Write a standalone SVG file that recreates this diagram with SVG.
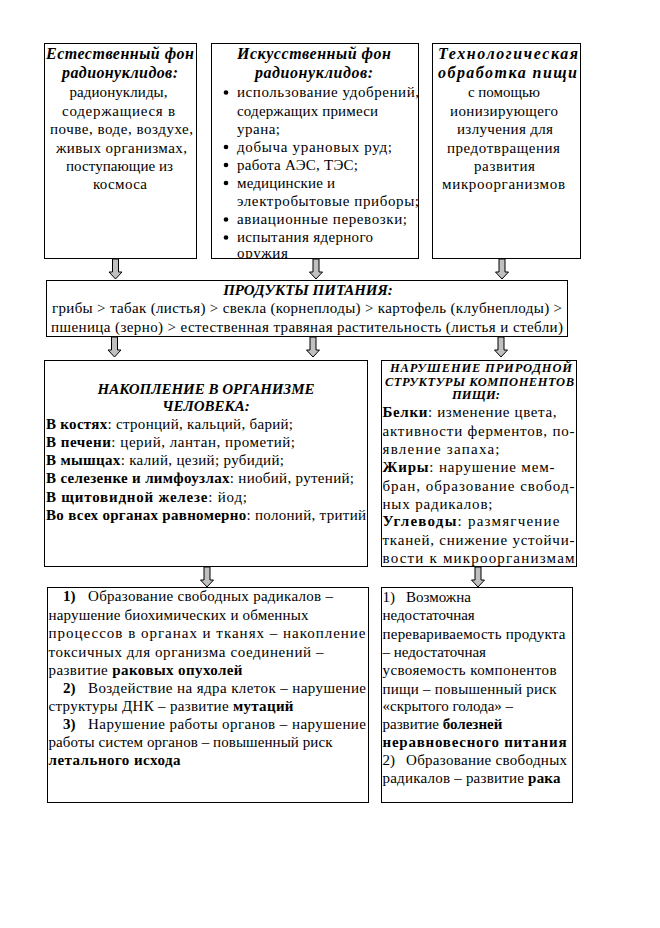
<svg xmlns="http://www.w3.org/2000/svg" width="660" height="928" viewBox="0 0 660 928" font-family="'Liberation Serif', 'Times New Roman', 'DejaVu Serif', serif">
<style>
.box{fill:#fff;stroke:#000;stroke-width:1}
text{font-family:'Liberation Serif','Times New Roman','DejaVu Serif',serif;font-size:15px;fill:#000}
.c{text-anchor:middle}
.t{font-weight:bold;font-style:italic;font-size:15px}
.tl{font-weight:bold;font-style:italic;font-size:16px}
.ts{font-weight:bold;font-style:italic;font-size:12.5px}
.b{font-weight:bold}
.arr{fill:#c0c0c0;stroke:#000;stroke-width:1}
</style>
<defs>
<path id="ar" d="M-3,0 H3 V13 H6.5 L0,20 L-6.5,13 H-3 Z"/>
<clipPath id="cl2"><rect x="211" y="43" width="208" height="215.5"/></clipPath>
</defs>
<rect width="660" height="928" fill="#fff"/>

<g id="natural">
<rect class="box" x="44.5" y="43.5" width="152" height="215"/>
<text class="tl" x="46" y="59" textLength="148">Естественный фон</text>
<text class="tl" x="62" y="78" textLength="116">радионуклидов:</text>
<text x="69.5" y="97" textLength="98">радионуклиды,</text>
<text x="62" y="116" textLength="113">содержащиеся в</text>
<text x="50" y="134" textLength="143">почве, воде, воздухе,</text>
<text x="56" y="152.5" textLength="131">живых организмах,</text>
<text x="66" y="170.5" textLength="107">поступающие из</text>
<text x="93" y="188.5" textLength="54">космоса</text>
</g>

<g id="artificial">
<rect class="box" x="211.5" y="43.5" width="207" height="215"/>
<text class="tl" x="237" y="59" textLength="154">Искусственный фон</text>
<text class="tl" x="255" y="78" textLength="118">радионуклидов:</text>
<g clip-path="url(#cl2)">
<circle cx="226" cy="92.5" r="2.3"/>
<text x="237" y="97" textLength="182">использование удобрений,</text>
<text x="237" y="115.5" textLength="141">содержащих примеси</text>
<text x="237" y="134" textLength="43">урана;</text>
<circle cx="226" cy="147" r="2.3"/>
<text x="237" y="151.5" textLength="155">добыча урановых руд;</text>
<circle cx="226" cy="165" r="2.3"/>
<text x="237" y="169.5" textLength="121">работа АЭС, ТЭС;</text>
<circle cx="226" cy="183" r="2.3"/>
<text x="237" y="187.5" textLength="98">медицинские и</text>
<text x="237" y="206" textLength="182">электробытовые приборы;</text>
<circle cx="226" cy="219.5" r="2.3"/>
<text x="237" y="224" textLength="170">авиационные перевозки;</text>
<circle cx="226" cy="237.5" r="2.3"/>
<text x="237" y="242" textLength="136">испытания ядерного</text>
<text x="237" y="258" textLength="51">оружия</text>
</g>
</g>

<g id="tech">
<rect class="box" x="432.5" y="43.5" width="148" height="215"/>
<text class="tl" x="438" y="59" textLength="140">Технологическая</text>
<text class="tl" x="438" y="78" textLength="139">обработка пищи</text>
<text x="468" y="97" textLength="72">с помощью</text>
<text x="450" y="116" textLength="108">ионизирующего</text>
<text x="457" y="134" textLength="96">излучения для</text>
<text x="447" y="152.5" textLength="113">предотвращения</text>
<text x="474" y="170.5" textLength="61">развития</text>
<text x="442" y="188.5" textLength="123">микроорганизмов</text>
</g>

<g id="products">
<rect class="box" x="46.5" y="280.5" width="521" height="56"/>
<text class="c t" x="308" y="295">ПРОДУКТЫ ПИТАНИЯ:</text>
<text x="52" y="313" textLength="510">грибы &gt; табак (листья) &gt; свекла (корнеплоды) &gt; картофель (клубнеплоды) &gt;</text>
<text x="51" y="331.5" textLength="512">пшеница (зерно) &gt; естественная травяная растительность (листья и стебли)</text>
</g>

<g id="accumulation">
<rect class="box" x="44.5" y="360.5" width="323" height="206"/>
<text class="c t" x="206" y="394">НАКОПЛЕНИЕ В ОРГАНИЗМЕ</text>
<text class="c t" x="206" y="411">ЧЕЛОВЕКА:</text>
<text x="46" y="429" textLength="247"><tspan class="b">В костях</tspan>: стронций, кальций, барий;</text>
<text x="46" y="447" textLength="249"><tspan class="b">В печени</tspan>: церий, лантан, прометий;</text>
<text x="46" y="465" textLength="238"><tspan class="b">В мышцах</tspan>: калий, цезий; рубидий;</text>
<text x="46" y="483" textLength="308"><tspan class="b">В селезенке и лимфоузлах</tspan>:  ниобий, рутений;</text>
<text x="46" y="501.5" textLength="201"><tspan class="b">В щитовидной железе</tspan>: йод;</text>
<text x="46" y="520" textLength="320"><tspan class="b">Во всех органах равномерно</tspan>: полоний, тритий</text>
</g>

<g id="disruption">
<rect class="box" x="381.5" y="360.5" width="195" height="206"/>
<text class="ts" x="390" y="372" textLength="182">НАРУШЕНИЕ ПРИРОДНОЙ</text>
<text class="ts" x="385" y="386" textLength="189">СТРУКТУРЫ КОМПОНЕНТОВ</text>
<text class="ts" x="452" y="399" textLength="48">ПИЩИ:</text>
<text x="382.5" y="417" textLength="174"><tspan class="b">Белки</tspan>: изменение цвета,</text>
<text x="382.5" y="435.5" textLength="192">активности ферментов, по-</text>
<text x="382.5" y="453.5" textLength="117">явление запаха;</text>
<text x="382.5" y="472" textLength="172"><tspan class="b">Жиры</tspan>: нарушение мем-</text>
<text x="382.5" y="490.5" textLength="192">бран, образование свобод-</text>
<text x="382.5" y="508.5" textLength="110">ных радикалов;</text>
<text x="382.5" y="526" textLength="177"><tspan class="b">Углеводы</tspan>: размягчение</text>
<text x="382.5" y="544.5" textLength="192">тканей, снижение устойчи-</text>
<text x="382.5" y="562.5" textLength="192">вости к микроорганизмам</text>
</g>

<g id="effects-body">
<rect class="box" x="47.5" y="587.5" width="321" height="215"/>
<text class="b" x="63" y="601">1)</text>
<text x="88" y="601" textLength="245">Образование свободных радикалов –</text>
<text x="48.5" y="619.5" textLength="260">нарушение биохимических и обменных</text>
<text x="48.5" y="638" textLength="317">процессов в органах и тканях – накопление</text>
<text x="48.5" y="656.5" textLength="275">токсичных для организма соединений –</text>
<text x="48.5" y="675" textLength="194">развитие <tspan class="b">раковых опухолей</tspan></text>
<text class="b" x="63" y="693">2)</text>
<text x="88" y="693" textLength="278">Воздействие на ядра клеток – нарушение</text>
<text x="48.5" y="711" textLength="245">структуры ДНК – развитие <tspan class="b">мутаций</tspan></text>
<text class="b" x="63" y="729">3)</text>
<text x="88" y="729" textLength="278">Нарушение работы органов  –  нарушение</text>
<text x="48.5" y="747" textLength="284">работы систем органов – повышенный риск</text>
<text x="48.5" y="765" textLength="132"><tspan class="b">летального исхода</tspan></text>
</g>

<g id="effects-food">
<rect class="box" x="381.5" y="587.5" width="191" height="215"/>
<text x="382.5" y="601.5">1)</text>
<text x="406" y="601.5">Возможна</text>
<text x="382.5" y="620">недостаточная</text>
<text x="382.5" y="638.5" textLength="183">перевариваемость продукта</text>
<text x="382.5" y="657">–  недостаточная</text>
<text x="382.5" y="675" textLength="174">усвояемость компонентов</text>
<text x="382.5" y="693.5" textLength="174">пищи – повышенный риск</text>
<text x="382.5" y="711">«скрытого голода» –</text>
<text x="382.5" y="729">развитие <tspan class="b">болезней</tspan></text>
<text x="382.5" y="747" textLength="184"><tspan class="b">неравновесного питания</tspan></text>
<text x="382.5" y="765">2)</text>
<text x="406" y="765" textLength="161">Образование свободных</text>
<text x="382.5" y="783" textLength="178">радикалов – развитие <tspan class="b">рака</tspan></text>
</g>

<g id="connectors">
<use href="#ar" class="arr" x="115.5" y="259"/>
<use href="#ar" class="arr" x="316" y="259"/>
<use href="#ar" class="arr" x="502" y="259"/>
<use href="#ar" class="arr" x="114.5" y="337"/>
<use href="#ar" class="arr" x="313" y="337"/>
<use href="#ar" class="arr" x="501" y="337"/>
<use href="#ar" class="arr" x="207" y="567"/>
<use href="#ar" class="arr" x="478" y="567"/>
</g>
</svg>
